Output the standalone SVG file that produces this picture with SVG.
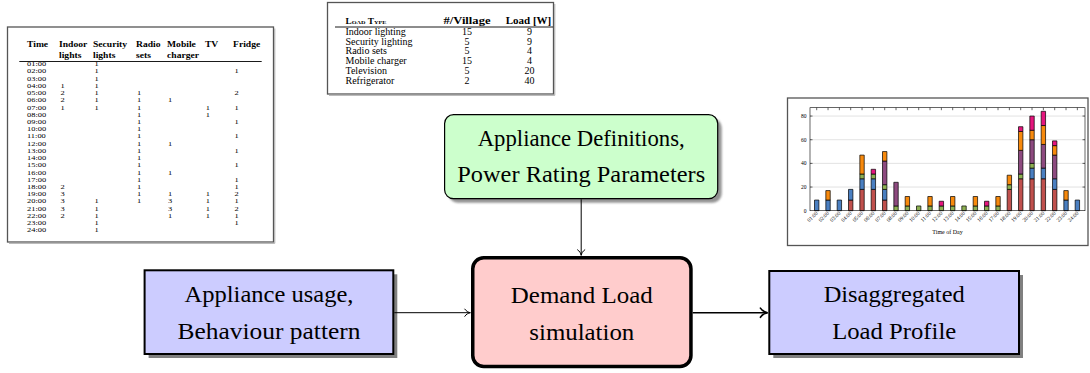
<svg xmlns="http://www.w3.org/2000/svg" width="1090" height="373" viewBox="0 0 1090 373">
<defs>
<style>
  .serif, .serif text{font-family:"Liberation Serif","Times New Roman","DejaVu Serif",serif;fill:#000}
  .frame{fill:#fff;stroke:#555;stroke-width:1.3}
  .shade{fill:none;stroke:#aaa;stroke-width:1}
  .th{font-weight:bold;font-size:8px}
  .td{font-size:7px}
  .rt{font-size:10px}
  .rh{font-size:11px;font-weight:bold;text-anchor:middle}
  .mid{text-anchor:middle}
  .ax{font-size:5.5px}
  .bars rect{stroke:#000;stroke-width:0.7;vector-effect:non-scaling-stroke}
  .r{fill:#c0504d}.b{fill:#4a7fc1}.g{fill:#8db052}.p{fill:#8d4a7f}.o{fill:#f7890c}.k{fill:#e5157d}
  .grid{stroke:#cfcfcf;stroke-width:0.6;fill:none}
  .axis{stroke:#000;stroke-width:0.6;fill:none}
  .big{font-family:"Liberation Serif","Times New Roman","DejaVu Serif",serif;font-size:22.5px;text-anchor:middle;fill:#000}
  .shadow{fill:#808080}
  .blue{fill:#ccccff;stroke:#000;stroke-width:2}
  .green{fill:#ccffcc;stroke:#000;stroke-width:1.2}
  .pink{fill:#ffcccc;stroke:#000;stroke-width:3.5}
  .conn{fill:none;stroke:#000;stroke-width:1}
  .thick{stroke-width:1.6}
</style>
<filter id="soft" x="-5%" y="-5%" width="110%" height="110%">
  <feGaussianBlur stdDeviation="1"/>
</filter>
<marker id="to" viewBox="-7 -5 8 10" refX="0" refY="0" markerWidth="8" markerHeight="10" markerUnits="userSpaceOnUse" orient="auto" overflow="visible">
  <path d="M-5.5,-3.6 C-4.2,-1.5 -1.8,-0.35 0,0 C-1.8,0.35 -4.2,1.5 -5.5,3.6" fill="none" stroke="#000" stroke-width="1" stroke-linecap="round"/>
</marker>
<marker id="to-thick" viewBox="-9 -6 10 12" refX="0" refY="0" markerWidth="10" markerHeight="12" markerUnits="userSpaceOnUse" orient="auto" overflow="visible">
  <path d="M-7.2,-4.6 C-5.4,-1.9 -2.4,-0.45 0,0 C-2.4,0.45 -5.4,1.9 -7.2,4.6" fill="none" stroke="#000" stroke-width="1.6" stroke-linecap="round"/>
</marker>
</defs>

<rect width="1090" height="373" fill="#fff"/>

<!-- hourly usage table -->
<g id="table-usage">
  <rect class="frame" x="7.5" y="27" width="266" height="215"/>
  <path class="shade" d="M274.8 28.5V243.3H9"/>
  <line x1="19.3" y1="61.5" x2="261.7" y2="61.5" stroke="#000" stroke-width="0.9"/>
  <g class="serif" transform="scale(1.2 1)">
    <text class="th" y="46.7"><tspan x="22.5">Time</tspan><tspan x="49.2">Indoor</tspan><tspan x="77.5">Security</tspan><tspan x="113.3">Radio</tspan><tspan x="139.2">Mobile</tspan><tspan x="170.8">TV</tspan><tspan x="194.2">Fridge</tspan></text>
    <text class="th" y="58"><tspan x="49.2">lights</tspan><tspan x="77.5">lights</tspan><tspan x="113.3">sets</tspan><tspan x="139.2">charger</tspan></text>
    <g class="td">
      <text y="66.3"><tspan x="22.5">01:00</tspan><tspan x="78.8">1</tspan></text>
      <text y="73.5"><tspan x="22.5">02:00</tspan><tspan x="78.8">1</tspan><tspan x="195.5">1</tspan></text>
      <text y="80.7"><tspan x="22.5">03:00</tspan><tspan x="78.8">1</tspan></text>
      <text y="88"><tspan x="22.5">04:00</tspan><tspan x="50.5">1</tspan><tspan x="78.8">1</tspan></text>
      <text y="95.2"><tspan x="22.5">05:00</tspan><tspan x="50.5">2</tspan><tspan x="78.8">1</tspan><tspan x="114.2">1</tspan><tspan x="195.5">2</tspan></text>
      <text y="102.4"><tspan x="22.5">06:00</tspan><tspan x="50.5">2</tspan><tspan x="78.8">1</tspan><tspan x="114.2">1</tspan><tspan x="140">1</tspan></text>
      <text y="109.6"><tspan x="22.5">07:00</tspan><tspan x="50.5">1</tspan><tspan x="78.8">1</tspan><tspan x="114.2">1</tspan><tspan x="171.5">1</tspan><tspan x="195.5">1</tspan></text>
      <text y="116.8"><tspan x="22.5">08:00</tspan><tspan x="114.2">1</tspan><tspan x="171.5">1</tspan></text>
      <text y="124.1"><tspan x="22.5">09:00</tspan><tspan x="114.2">1</tspan><tspan x="195.5">1</tspan></text>
      <text y="131.3"><tspan x="22.5">10:00</tspan><tspan x="114.2">1</tspan></text>
      <text y="138.5"><tspan x="22.5">11:00</tspan><tspan x="114.2">1</tspan><tspan x="195.5">1</tspan></text>
      <text y="145.7"><tspan x="22.5">12:00</tspan><tspan x="114.2">1</tspan><tspan x="140">1</tspan></text>
      <text y="152.9"><tspan x="22.5">13:00</tspan><tspan x="114.2">1</tspan><tspan x="195.5">1</tspan></text>
      <text y="160.2"><tspan x="22.5">14:00</tspan><tspan x="114.2">1</tspan></text>
      <text y="167.4"><tspan x="22.5">15:00</tspan><tspan x="114.2">1</tspan><tspan x="195.5">1</tspan></text>
      <text y="174.6"><tspan x="22.5">16:00</tspan><tspan x="114.2">1</tspan><tspan x="140">1</tspan></text>
      <text y="181.8"><tspan x="22.5">17:00</tspan><tspan x="114.2">1</tspan><tspan x="195.5">1</tspan></text>
      <text y="189"><tspan x="22.5">18:00</tspan><tspan x="50.5">2</tspan><tspan x="114.2">1</tspan><tspan x="195.5">1</tspan></text>
      <text y="196.3"><tspan x="22.5">19:00</tspan><tspan x="50.5">3</tspan><tspan x="114.2">1</tspan><tspan x="140">1</tspan><tspan x="171.5">1</tspan><tspan x="195.5">2</tspan></text>
      <text y="203.5"><tspan x="22.5">20:00</tspan><tspan x="50.5">3</tspan><tspan x="78.8">1</tspan><tspan x="114.2">1</tspan><tspan x="140">3</tspan><tspan x="171.5">1</tspan><tspan x="195.5">1</tspan></text>
      <text y="210.7"><tspan x="22.5">21:00</tspan><tspan x="50.5">3</tspan><tspan x="78.8">1</tspan><tspan x="140">3</tspan><tspan x="171.5">1</tspan><tspan x="195.5">2</tspan></text>
      <text y="217.9"><tspan x="22.5">22:00</tspan><tspan x="50.5">2</tspan><tspan x="78.8">1</tspan><tspan x="140">1</tspan><tspan x="171.5">1</tspan><tspan x="195.5">1</tspan></text>
      <text y="225.2"><tspan x="22.5">23:00</tspan><tspan x="78.8">1</tspan><tspan x="195.5">1</tspan></text>
      <text y="232.4"><tspan x="22.5">24:00</tspan><tspan x="78.8">1</tspan></text>
    </g>
  </g>
</g>

<!-- appliance rating table -->
<g id="table-ratings" class="serif">
  <rect class="frame" x="327.5" y="2.5" width="226" height="91.5"/>
  <path class="shade" d="M554.8 4V95.3H329"/>
  <text x="345.5" y="24.4" font-size="7.5" font-weight="bold" font-variant="small-caps" textLength="41" lengthAdjust="spacingAndGlyphs">Load Type</text>
  <text class="rh" x="467" y="24.4" textLength="47" lengthAdjust="spacingAndGlyphs">#/Village</text>
  <text class="rh" x="528.5" y="24.4">Load [W]</text>
  <line x1="335" y1="27" x2="553" y2="27" stroke="#000" stroke-width="0.9"/>
  <g class="rt">
    <text x="345.5" y="34.7">Indoor lighting</text>
    <text x="345.5" y="44.6">Security lighting</text>
    <text x="345.5" y="54.4">Radio sets</text>
    <text x="345.5" y="64.3">Mobile charger</text>
    <text x="345.5" y="74.1">Television</text>
    <text x="345.5" y="84">Refrigerator</text>
  </g>
  <g class="rt mid">
    <text x="467" y="34.7">15</text><text x="529.5" y="34.7">9</text>
    <text x="467" y="44.6">5</text><text x="529.5" y="44.6">9</text>
    <text x="467" y="54.4">5</text><text x="529.5" y="54.4">4</text>
    <text x="467" y="64.3">15</text><text x="529.5" y="64.3">4</text>
    <text x="467" y="74.1">5</text><text x="529.5" y="74.1">20</text>
    <text x="467" y="84">2</text><text x="529.5" y="84">40</text>
  </g>
</g>

<!-- stacked hourly load chart -->
<g id="chart-profile" class="serif">
  <rect class="frame" x="787.5" y="98" width="300.5" height="147.5"/>
  <path class="grid" d="M810 187.04H1085M810 163.38H1085M810 139.72H1085M810 116.06H1085"/>
  <g class="bars" transform="matrix(1 0 0 -1.183 0 210.7)">
    <rect class="b" x="814.5" y="0" width="4.4" height="9"/>
    <rect class="b" x="825.83" y="0" width="4.4" height="9"/><rect class="o" x="825.83" y="9" width="4.4" height="8"/>
    <rect class="b" x="837.17" y="0" width="4.4" height="9"/>
    <rect class="r" x="848.5" y="0" width="4.4" height="9"/><rect class="b" x="848.5" y="9" width="4.4" height="9"/>
    <rect class="r" x="859.83" y="0" width="4.4" height="18"/><rect class="b" x="859.83" y="18" width="4.4" height="9"/><rect class="g" x="859.83" y="27" width="4.4" height="4"/><rect class="o" x="859.83" y="31" width="4.4" height="16"/>
    <rect class="r" x="871.17" y="0" width="4.4" height="18"/><rect class="b" x="871.17" y="18" width="4.4" height="9"/><rect class="g" x="871.17" y="27" width="4.4" height="4"/><rect class="k" x="871.17" y="31" width="4.4" height="4"/>
    <rect class="r" x="882.5" y="0" width="4.4" height="9"/><rect class="b" x="882.5" y="9" width="4.4" height="9"/><rect class="g" x="882.5" y="18" width="4.4" height="4"/><rect class="p" x="882.5" y="22" width="4.4" height="20"/><rect class="o" x="882.5" y="42" width="4.4" height="8"/>
    <rect class="g" x="893.83" y="0" width="4.4" height="4"/><rect class="p" x="893.83" y="4" width="4.4" height="20"/>
    <rect class="g" x="905.17" y="0" width="4.4" height="4"/><rect class="o" x="905.17" y="4" width="4.4" height="8"/>
    <rect class="g" x="916.5" y="0" width="4.4" height="4"/>
    <rect class="g" x="927.83" y="0" width="4.4" height="4"/><rect class="o" x="927.83" y="4" width="4.4" height="8"/>
    <rect class="g" x="939.17" y="0" width="4.4" height="4"/><rect class="k" x="939.17" y="4" width="4.4" height="4"/>
    <rect class="g" x="950.5" y="0" width="4.4" height="4"/><rect class="o" x="950.5" y="4" width="4.4" height="8"/>
    <rect class="g" x="961.83" y="0" width="4.4" height="4"/>
    <rect class="g" x="973.17" y="0" width="4.4" height="4"/><rect class="o" x="973.17" y="4" width="4.4" height="8"/>
    <rect class="g" x="984.5" y="0" width="4.4" height="4"/><rect class="k" x="984.5" y="4" width="4.4" height="4"/>
    <rect class="g" x="995.83" y="0" width="4.4" height="4"/><rect class="o" x="995.83" y="4" width="4.4" height="8"/>
    <rect class="r" x="1007.17" y="0" width="4.4" height="18"/><rect class="g" x="1007.17" y="18" width="4.4" height="4"/><rect class="o" x="1007.17" y="22" width="4.4" height="8"/>
    <rect class="r" x="1018.5" y="0" width="4.4" height="27"/><rect class="g" x="1018.5" y="27" width="4.4" height="4"/><rect class="p" x="1018.5" y="31" width="4.4" height="20"/><rect class="o" x="1018.5" y="51" width="4.4" height="16"/><rect class="k" x="1018.5" y="67" width="4.4" height="4"/>
    <rect class="r" x="1029.83" y="0" width="4.4" height="27"/><rect class="b" x="1029.83" y="27" width="4.4" height="9"/><rect class="g" x="1029.83" y="36" width="4.4" height="4"/><rect class="p" x="1029.83" y="40" width="4.4" height="20"/><rect class="o" x="1029.83" y="60" width="4.4" height="8"/><rect class="k" x="1029.83" y="68" width="4.4" height="12"/>
    <rect class="r" x="1041.17" y="0" width="4.4" height="27"/><rect class="b" x="1041.17" y="27" width="4.4" height="9"/><rect class="p" x="1041.17" y="36" width="4.4" height="20"/><rect class="o" x="1041.17" y="56" width="4.4" height="16"/><rect class="k" x="1041.17" y="72" width="4.4" height="12"/>
    <rect class="r" x="1052.5" y="0" width="4.4" height="18"/><rect class="b" x="1052.5" y="18" width="4.4" height="9"/><rect class="p" x="1052.5" y="27" width="4.4" height="20"/><rect class="o" x="1052.5" y="47" width="4.4" height="8"/><rect class="k" x="1052.5" y="55" width="4.4" height="4"/>
    <rect class="b" x="1063.83" y="0" width="4.4" height="9"/><rect class="o" x="1063.83" y="9" width="4.4" height="8"/>
    <rect class="b" x="1075.17" y="0" width="4.4" height="9"/>
  </g>
  <rect class="axis" x="810" y="107.7" width="275" height="103"/>
  <path class="axis" d="M816.7 107.7v2.5m11.333 -2.5v2.5m11.333 -2.5v2.5m11.333 -2.5v2.5m11.333 -2.5v2.5m11.333 -2.5v2.5m11.333 -2.5v2.5m11.333 -2.5v2.5m11.333 -2.5v2.5m11.333 -2.5v2.5m11.333 -2.5v2.5m11.333 -2.5v2.5m11.333 -2.5v2.5m11.333 -2.5v2.5m11.333 -2.5v2.5m11.333 -2.5v2.5m11.333 -2.5v2.5m11.333 -2.5v2.5m11.333 -2.5v2.5m11.333 -2.5v2.5m11.333 -2.5v2.5m11.333 -2.5v2.5m11.333 -2.5v2.5m11.333 -2.5v2.5"/>
  <path class="axis" d="M810 187.04h2.5M810 163.38h2.5M810 139.72h2.5M810 116.06h2.5M1085 187.04h-2.5M1085 163.38h-2.5M1085 139.72h-2.5M1085 116.06h-2.5"/>
  <g class="ax" text-anchor="end">
    <text x="806.5" y="212.5">0</text>
    <text x="806.5" y="188.8">20</text>
    <text x="806.5" y="165.2">40</text>
    <text x="806.5" y="141.5">60</text>
    <text x="806.5" y="117.9">80</text>
  </g>
  <g class="ax" text-anchor="end">
    <text transform="translate(818.2 213.5) rotate(-45)">01:00</text>
    <text transform="translate(829.5 213.5) rotate(-45)">02:00</text>
    <text transform="translate(840.9 213.5) rotate(-45)">03:00</text>
    <text transform="translate(852.2 213.5) rotate(-45)">04:00</text>
    <text transform="translate(863.5 213.5) rotate(-45)">05:00</text>
    <text transform="translate(874.9 213.5) rotate(-45)">06:00</text>
    <text transform="translate(886.2 213.5) rotate(-45)">07:00</text>
    <text transform="translate(897.5 213.5) rotate(-45)">08:00</text>
    <text transform="translate(908.9 213.5) rotate(-45)">09:00</text>
    <text transform="translate(920.2 213.5) rotate(-45)">10:00</text>
    <text transform="translate(931.5 213.5) rotate(-45)">11:00</text>
    <text transform="translate(942.9 213.5) rotate(-45)">12:00</text>
    <text transform="translate(954.2 213.5) rotate(-45)">13:00</text>
    <text transform="translate(965.5 213.5) rotate(-45)">14:00</text>
    <text transform="translate(976.9 213.5) rotate(-45)">15:00</text>
    <text transform="translate(988.2 213.5) rotate(-45)">16:00</text>
    <text transform="translate(999.5 213.5) rotate(-45)">17:00</text>
    <text transform="translate(1010.9 213.5) rotate(-45)">18:00</text>
    <text transform="translate(1022.2 213.5) rotate(-45)">19:00</text>
    <text transform="translate(1033.5 213.5) rotate(-45)">20:00</text>
    <text transform="translate(1044.9 213.5) rotate(-45)">21:00</text>
    <text transform="translate(1056.2 213.5) rotate(-45)">22:00</text>
    <text transform="translate(1067.5 213.5) rotate(-45)">23:00</text>
    <text transform="translate(1078.9 213.5) rotate(-45)">24:00</text>
  </g>
  <text x="947.5" y="234" font-size="6" text-anchor="middle">Time of Day</text>
</g>

<!-- flow nodes -->
<g id="node-definitions">
  <rect class="shadow" x="448.6" y="118.6" width="273.1" height="84.1" rx="9" opacity="0.85" filter="url(#soft)"/>
  <rect class="green" x="444.6" y="114.6" width="273.1" height="84.1" rx="9"/>
  <text class="big" x="581.2" y="145.8" textLength="207" lengthAdjust="spacingAndGlyphs">Appliance Definitions,</text>
  <text class="big" x="581.2" y="182.4" textLength="248" lengthAdjust="spacingAndGlyphs">Power Rating Parameters</text>
</g>

<g id="node-usage">
  <rect class="shadow" x="148.6" y="274.3" width="248.7" height="83.7"/>
  <rect class="blue" x="144.6" y="270.3" width="248.7" height="83.7"/>
  <text class="big" x="269" y="302" textLength="169" lengthAdjust="spacingAndGlyphs">Appliance usage,</text>
  <text class="big" x="269" y="339" textLength="183" lengthAdjust="spacingAndGlyphs">Behaviour pattern</text>
</g>

<g id="node-simulation">
  <rect class="pink" x="472.75" y="257.75" width="218.2" height="108.8" rx="11"/>
  <text class="big" x="581.8" y="302.5" textLength="142" lengthAdjust="spacingAndGlyphs">Demand Load</text>
  <text class="big" x="581.8" y="339.5" textLength="105" lengthAdjust="spacingAndGlyphs">simulation</text>
</g>

<g id="node-profile">
  <rect class="shadow" x="773.3" y="275" width="249.7" height="83"/>
  <rect class="blue" x="769.3" y="271" width="249.7" height="83"/>
  <text class="big" x="894.2" y="302" textLength="141" lengthAdjust="spacingAndGlyphs">Disaggregated</text>
  <text class="big" x="894.2" y="339" textLength="124" lengthAdjust="spacingAndGlyphs">Load Profile</text>
</g>

<!-- connectors -->
<g id="connectors">
  <path class="conn" d="M394.3 312.7H470.3" marker-end="url(#to)"/>
  <path class="conn" d="M581.2 199.3V255.3" marker-end="url(#to)"/>
  <path class="conn thick" d="M692.7 312.7H767.6" marker-end="url(#to-thick)"/>
</g>
</svg>
